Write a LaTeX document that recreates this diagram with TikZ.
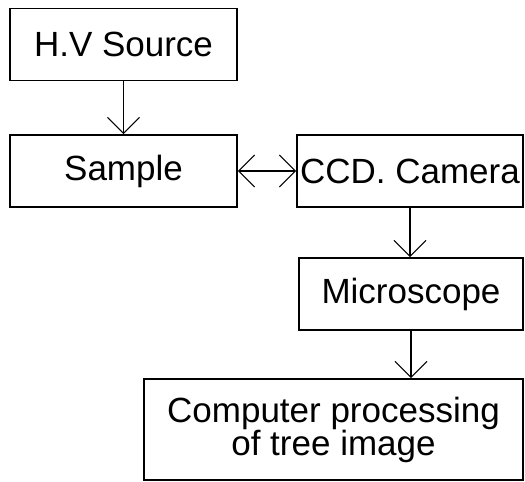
\documentclass[tikz,border=0pt]{standalone}
\usepackage{fontspec}
\setmainfont{Liberation Sans}
\usetikzlibrary{arrows.meta, positioning}

\begin{document}
\begin{tikzpicture}[x=1pt, y=-1pt,
  barb/.tip={Straight Barb[length=10pt, width=20pt, scale=1.6]},
  block/.style={rectangle, draw, line width=1.6pt, inner sep=0pt,
    minimum height=72pt, font=\fontsize{35}{33}\selectfont},
  link/.style={line width=1.1pt}]
  \useasboundingbox (0,0) rectangle (525,482);
  % Blocks
  \node[block, minimum width=227pt] (hv) at (123.5,44.5) {H.V Source};
  \node[block, minimum width=227pt] (sample) at (123.5,171) {Sample};
  \node[block, minimum width=226pt] (ccd) at (410,171) {CCD. Camera};
  \node[block, minimum width=224pt] (micro) at (411,294) {Microscope};
  \node[block, minimum width=379pt, minimum height=101pt, align=center]
    (comp) at (333.5,429.5) {Computer processing\\of tree image};

  % Connections
  \draw[link, -barb] (hv) -- (sample);
  \draw[link, barb-barb] (sample) -- (ccd);
  \draw[link, -barb] (ccd) -- (micro.north -| ccd);
  \draw[link, -barb] (micro.south) -- (micro.south |- comp.north);
\end{tikzpicture}
\end{document}
